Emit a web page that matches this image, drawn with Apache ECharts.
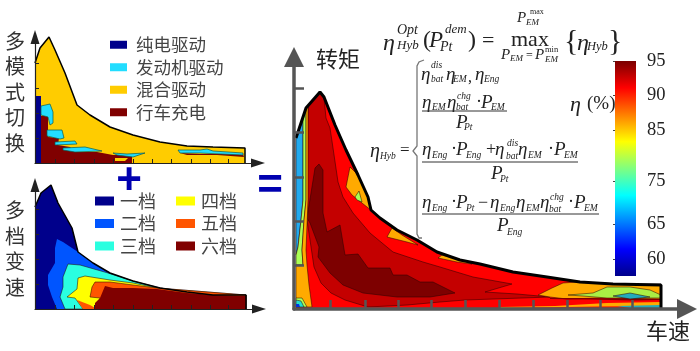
<!DOCTYPE html>
<html lang="zh">
<head>
<meta charset="UTF-8">
<title>混合动力效率</title>
<script src="https://cdn.jsdelivr.net/npm/echarts@6/dist/echarts.min.js"></script>
<style>
    html, body { margin: 0; padding: 0; background: #fff; }
    #main { width: 700px; height: 351px; }
</style>
</head>
<body>
<div id="main"></div>
<script>
    // 多模式切换 (speed, torque)
    const modeSpeedTicks = [20, 39, 59, 78, 98, 117, 136, 156, 175, 193];
    const modeTorqueTicks = [25, 50, 75, 100];
    const modeEnvelope = [[0,100],[5,115],[14,126],[20,113],[30,90],[42,58],[55,48],[75,36],[98,28],[125,21],[152,17],[178,16],[210,15],[210,0]];
    const modeEv = [[0,0],[6,0],[6,67],[0,67]];
    const modeChargeMain = [[6,47],[13,47],[13,26],[24,25],[23,18],[35,16],[40,11],[62,11],[78,8],[97,8],[97,0],[6,0]];
    const modeChargeHigh = [[145,10],[165,9],[208,9],[209,6],[182,8],[152,8]];
    const modeEngineA = [[6,57],[15,59],[18,51],[18,40],[15,38],[13,46],[6,48]];
    const modeEngineB = [[12,33],[27,33],[29,25],[25,24],[12,27]];
    const modeEngineC = [[20,21],[40,22],[42,19],[20,18]];
    const modeEngineD = [[28,15],[50,16],[67,12],[40,11],[28,13]];
    const modeEngineE = [[78,10],[92,9],[110,10],[98,6],[82,8]];
    const modeEngineF = [[143,13],[165,13],[172,14],[178,12],[208,10],[208,8],[165,10],[145,10]];
    const modeHybridIsland = [[80,5],[93,5],[90,2],[80,2]];

    // 多档变速
    const gearEnvelope = [[0,102],[6,116],[16,124],[23,106],[37,81],[43,57],[58,46],[75,36],[98,28],[125,21],[152,17],[178,14],[211,14],[211,0]];
    const gear2 = [[22,70],[28,67],[43,57],[58,46],[75,36],[98,28],[125,21],[152,17],[178,14],[211,14],[211,0],[22,0],[17,12],[13,24],[13,34],[20,46],[20,61]];
    const gear3 = [[33,45],[45,44],[73,36],[98,28],[125,21],[152,17],[178,14],[211,14],[211,0],[30,0],[25,12],[28,22],[28,32]];
    const gear4 = [[43,31],[50,33],[75,29],[98,26],[122,21],[211,14],[211,0],[48,0],[40,11],[32,12],[42,20]];
    const gear5 = [[57,22],[60,27],[75,27],[98,24],[122,21],[211,14],[211,0],[65,0],[65,11],[55,12]];
    const gear5Low = [[42,9],[55,4],[62,0],[48,0]];
    const gear6 = [[65,11],[70,23],[78,21],[98,21],[122,20],[152,16],[178,14],[211,13],[211,0],[60,0],[60,6]];

    // 效率 map
    const effSpeedTicks = [36, 71, 104, 137, 171, 205, 239, 273, 306, 338];
    const effTorqueTicks = [44, 88, 132, 177, 221];
    const effEnvelope = [[2,171],[12,201],[26,217],[30,212],[41,184],[52,159],[64,134],[74,112],[77,99],[86,91],[103,79],[123,69],[143,57],[166,49],[186,45],[219,37],[253,32],[286,27],[319,25],[367,24],[367,0]];
    const eff92 = [[14,203],[26,216],[30,211],[32,191],[36,181],[39,161],[44,127],[49,112],[59,96],[76,76],[99,57],[129,47],[146,42],[179,32],[218,25],[191,17],[223,15],[256,12],[171,9],[146,7],[113,4],[74,2],[51,9],[37,16],[27,26],[20,42],[16,69],[13,89]];
    const eff95 = [[13,91],[21,141],[25,145],[29,139],[29,96],[33,77],[46,84],[51,54],[64,55],[74,41],[96,41],[99,34],[113,34],[126,27],[139,27],[161,16],[136,12],[103,12],[69,16],[49,24],[36,36],[24,52],[25,62],[16,86]];
    const eff85Peak = [[52,122],[56,142],[64,134],[74,112],[77,99],[73,102],[58,114]];
    const eff80Peak = [[61,112],[65,118],[68,107],[63,109]];
    const eff85Mid = [[98,81],[93,72],[113,67],[124,64],[108,74]];
    const eff85Next = [[148,54],[144,51],[163,47],[178,45],[168,49]];
    const eff85End = [[244,14],[258,21],[269,26],[283,27],[326,25],[367,25],[367,10],[306,11],[273,10],[256,12]];
    const eff80End = [[274,14],[299,16],[313,22],[336,22],[356,19],[367,14],[367,11],[339,11],[313,11],[289,13]];
    const eff70End = [[319,13],[336,16],[356,12],[336,10]];
    const eff85Low = [[206,2],[261,3],[313,6],[367,7],[367,3],[306,2.5],[206,1]];
    const eff95Low = [[256,11],[296,11],[339,10],[367,10],[367,9],[339,8.5],[296,9.5],[256,10]];
    const eff70Low = [[323,3],[367,4],[367,1],[336,1]];
    const eff72Left = [[2,171],[9,189],[9,109],[7,89],[4,62],[2,54]];
    const eff80Left = [[9,189],[12,201],[12,109],[10,89],[8,59],[9,44],[2,44],[2,54],[4,62],[7,89],[9,109]];
    const eff85Left = [[12,201],[14,204],[14,109],[13,84],[12,59],[13,44],[15,24],[18,2],[2,2],[2,44],[9,44],[8,59],[10,89],[12,109]];
    const eff80Corner = [[2,11],[8,11],[13,2],[2,2]];
    const eff70Corner = [[2,9],[7,8],[10,2],[2,2]];
    const eff60Corner = [[2,5],[5,5],[6,2],[2,2]];

    // 色标
    const colorbarRows = [57,58.5,60,61,62,64,65,67,69,71,73,75,77,78,80,82,83,85,86,88,89,90,91,92,94,95];
    const colorbarLabels = [60, 65, 75, 85, 90, 95];

    const modeNames = ['纯电驱动', '发动机驱动', '混合驱动', '行车充电'];
    const gearLeft = ['一档', '二档', '三档'];
    const gearRight = ['四档', '五档', '六档'];

    const BLUE = '#00008b', CYAN = '#22ddff', AMBER = '#ffcc00', MAROON = '#800000';
    const contourLine = 'rgba(40,0,0,0.75)';

    function region(name, pts, color, idx, stroke) {
        return {
            type: 'custom',
            name: name,
            xAxisIndex: idx,
            yAxisIndex: idx,
            data: pts,
            encode: { x: 0, y: 1 },
            itemStyle: { color: color },
            silent: true,
            renderItem: function (params, api) {
                if (params.dataIndex !== 0) return null;
                return {
                    type: 'polygon',
                    shape: { points: pts.map(function (p) { return api.coord(p); }) },
                    style: { fill: color, stroke: stroke || null, lineWidth: stroke ? 0.7 : 0 }
                };
            }
        };
    }

    function outline(pts, idx, width) {
        return {
            type: 'line',
            xAxisIndex: idx,
            yAxisIndex: idx,
            data: pts,
            showSymbol: false,
            silent: true,
            clip: false,
            z: 4,
            lineStyle: { color: '#000', width: width }
        };
    }

    const mDark = '#0d5a4a';
    const series = [
        region('混合驱动', modeEnvelope.concat([[0,0]]), AMBER, 0),
        region('纯电驱动', modeEv, BLUE, 0),
        region('行车充电', modeChargeMain, MAROON, 0),
        region('行车充电', modeChargeHigh, MAROON, 0),
        region('发动机驱动', modeEngineA, CYAN, 0, mDark),
        region('发动机驱动', modeEngineB, CYAN, 0, mDark),
        region('发动机驱动', modeEngineC, CYAN, 0, mDark),
        region('发动机驱动', modeEngineD, CYAN, 0, mDark),
        region('发动机驱动', modeEngineE, CYAN, 0, mDark),
        region('发动机驱动', modeEngineF, CYAN, 0, mDark),
        region('混合驱动', modeHybridIsland, AMBER, 0),
        outline(modeEnvelope, 0, 1.5),

        region('一档', gearEnvelope.concat([[0,0]]), '#00008b', 1),
        region('二档', gear2, '#0055ff', 1),
        region('三档', gear3, '#2affe0', 1, contourLine),
        region('四档', gear4, '#ffff00', 1, contourLine),
        region('五档', gear5, '#ff5500', 1, contourLine),
        region('五档', gear5Low, '#ff5500', 1),
        region('六档', gear6, '#800000', 1),
        outline(gearEnvelope, 1, 1.5),

        region('90', effEnvelope.concat([[2,0]]), '#ff0000', 2),
        region('92', eff92, '#c40000', 2, contourLine),
        region('95', eff95, '#7d0000', 2, contourLine),
        region('85', eff85Peak, '#ffaa00', 2, contourLine),
        region('80', eff80Peak, '#aaff55', 2, contourLine),
        region('85', eff85Mid, '#ffaa00', 2, contourLine),
        region('85', eff85Next, '#ffaa00', 2, contourLine),
        region('85', eff85End, '#ffaa00', 2, contourLine),
        region('80', eff80End, '#aaee44', 2, contourLine),
        region('70', eff70End, '#22aabb', 2, contourLine),
        region('85', eff85Low, '#ffaa00', 2),
        region('95', eff95Low, '#7d0000', 2),
        region('70', eff70Low, '#22aabb', 2),
        region('72', eff72Left, '#22aaee', 2, contourLine),
        region('80', eff80Left, '#aaff55', 2, contourLine),
        region('85', eff85Left, '#ffaa00', 2, contourLine),
        region('80', eff80Corner, '#aaff55', 2, contourLine),
        region('70', eff70Corner, '#22ddcc', 2, contourLine),
        region('60', eff60Corner, '#0033dd', 2),
        outline(effEnvelope, 2, 3),

        {
            type: 'custom',
            xAxisIndex: 3,
            yAxisIndex: 3,
            data: [[0, 0, colorbarRows.length - 1]],
            encode: { x: 0, y: [1, 2] },
            silent: true,
            renderItem: function (params, api) {
                const a = api.coord([0, api.value(2)]);
                const b = api.coord([1, api.value(1)]);
                return {
                    type: 'rect',
                    shape: { x: a[0], y: a[1], width: b[0] - a[0], height: b[1] - a[1] },
                    style: {
                        fill: new echarts.graphic.LinearGradient(0, 0, 0, 1, [
                            { offset: 0, color: '#7a0000' },
                            { offset: 0.125, color: '#ff0000' },
                            { offset: 0.375, color: '#ffff00' },
                            { offset: 0.625, color: '#00ffff' },
                            { offset: 0.875, color: '#0000ff' },
                            { offset: 1, color: '#00008b' }
                        ])
                    }
                };
            }
        }
    ];

    function plotAxis(max, ticks, color, width, tickLen, arrow) {
        return {
            type: 'value',
            min: 0,
            max: max,
            z: 5,
            splitLine: { show: false },
            axisLabel: { show: false },
            axisLine: {
                show: true,
                onZero: false,
                symbol: ['none', 'triangle'],
                symbolSize: arrow,
                lineStyle: { color: color, width: width }
            },
            axisTick: {
                show: true,
                inside: true,
                length: tickLen,
                customValues: ticks,
                lineStyle: { color: color, width: width > 2 ? 2.5 : 1 }
            }
        };
    }

    function label(text, x, y, size, color) {
        return {
            type: 'text', x: x, y: y, silent: true,
            style: {
                text: text, fill: color || '#333',
                font: size + 'px "Noto Sans CJK SC"',
                align: 'center', verticalAlign: 'middle', lineHeight: 25.5
            }
        };
    }

    function symbolMark(text, x, y) {
        return {
            type: 'text', x: x, y: y, silent: true,
            style: { text: text, fill: '#0000b0', font: 'bold 44px "Liberation Sans"', align: 'center', verticalAlign: 'middle' }
        };
    }

    // text, x, y (middle), size, italic
    const mathPieces = [
        ['η',383,44,24,1],['Opt',397,30,14,1],['Hyb',397,46,13,1],['(',423,41,24,0],['P',429,41,23,1],['dem',445,30,13,1],['Pt',440,47,14,1],[')',468,41,24,0],['=',482,41,22,0],
        ['max',511,40,22,0],['P',517,18,15,1],['max',530,12,8,0],['EM',526,23,9,1],
        ['P',501,55,15,1],['EM',510,59,9,1],['=',526,56,12,0],['P',535,55,15,1],['min',545,50,8.5,0],['EM',545,60,9,1],
        ['{',564,42,30,0],['η',577,44,24,1],['Hyb',587,47,12.5,1],['}',608,42,30,0],
        ['η',570,105,22,1],['(%)',587,104,19,0],

        ['η',370,152,20,1],['Hyb',380,156,9.5,1],['=',400,151,17,0],

        ['η',421,75,19,1],['dis',431,65,9.5,1],['bat',431,79,9.5,1],['η',446,75,19,1],['EM',453,79,9.5,1],[',',468,78,16,0],['η',475,75,19,1],['Eng',484,79,9.5,1],

        ['η',422,103,19,1],['EM',432,107,9.5,1],['η',447,103,19,1],['chg',457,96,9.5,1],['bat',456,107,9.5,1],['·',476,102,18,0],['P',481,103,19,1],['EM',491,107,9.5,1],
        ['P',456,123,19,1],['Pt',464,127,9.5,1],

        ['η',422,150,19,1],['Eng',432,155,9.5,1],['·',451,149,18,0],['P',456,150,19,1],['Eng',466,155,9.5,1],['+',486,150,18,0],['η',495,150,19,1],['dis',507,143,9.5,1],['bat',506,156,9.5,1],['η',518,150,19,1],['EM',528,155,9.5,1],['·',548,149,18,0],['P',554,150,19,1],['EM',564,155,9.5,1],
        ['P',491,174,19,1],['Pt',500,179,9.5,1],

        ['η',422,203,19,1],['Eng',432,208,9.5,1],['·',451,202,18,0],['P',456,203,19,1],['Pt',466,208,9.5,1],['−',478,203,18,0],['η',490,203,19,1],['Eng',500,208,9.5,1],['η',516,203,19,1],['EM',526,208,9.5,1],['η',540,203,19,1],['chg',550,197,9.5,1],['bat',549,209,9.5,1],['·',568,202,18,0],['P',574,203,19,1],['EM',584,208,9.5,1],
        ['P',497,226,19,1],['Eng',507,232,9.5,1]
    ];

    const fractionBars = [[422,507,111],[422,578,162],[422,599,214]];

    const graphicEls = [
        label('多\n模\n式\n切\n换', 15, 92, 20),
        label('多\n档\n变\n速', 15, 249, 20),
        label('转矩', 338, 59, 22, '#222'),
        label('车速', 668, 331, 22, '#222'),
        symbolMark('+', 129, 182),
        symbolMark('=', 270, 187),
        {
            type: 'polyline', silent: true,
            shape: { points: [[424,60],[419,62],[417,66],[417,146],[413,151],[417,156],[417,234],[419,238],[422,238]] },
            style: { stroke: '#777', lineWidth: 1.3, fill: null }
        }
    ];
    mathPieces.forEach(function (m) {
        graphicEls.push({
            type: 'text', x: m[1], y: m[2], silent: true,
            style: {
                text: m[0], fill: '#222',
                font: (m[4] ? 'italic ' : '') + m[3] + 'px "Liberation Serif"',
                align: 'left', verticalAlign: 'middle'
            }
        });
    });
    fractionBars.forEach(function (b) {
        graphicEls.push({
            type: 'line', silent: true,
            shape: { x1: b[0], y1: b[2], x2: b[1], y2: b[2] },
            style: { stroke: '#333', lineWidth: 1 }
        });
    });

    const legendBase = {
        orient: 'vertical',
        selectedMode: false,
        icon: 'rect',
        padding: 0,
        itemStyle: { borderWidth: 0 }
    };

    const option = {
        animation: false,
        backgroundColor: '#fff',
        grid: [
            { left: 35, top: 37, width: 223, height: 126 },
            { left: 35, top: 185, width: 224, height: 124 },
            { left: 294, top: 57, width: 393, height: 252 },
            { left: 615, top: 61, width: 21, height: 215 }
        ],
        xAxis: [
            Object.assign(plotAxis(223, modeSpeedTicks, '#222', 1.2, 4, [9, 14]), { gridIndex: 0 }),
            Object.assign(plotAxis(224, modeSpeedTicks, '#222', 1.2, 4, [9, 14]), { gridIndex: 1 }),
            Object.assign(plotAxis(393, effSpeedTicks, '#555', 3.5, 9, [20, 20]), { gridIndex: 2 }),
            { type: 'value', gridIndex: 3, min: 0, max: 1, show: false }
        ],
        yAxis: [
            Object.assign(plotAxis(126, modeTorqueTicks, '#222', 1.2, 4, [9, 14]), { gridIndex: 0 }),
            Object.assign(plotAxis(124, modeTorqueTicks, '#222', 1.2, 4, [9, 14]), { gridIndex: 1 }),
            Object.assign(plotAxis(252, effTorqueTicks, '#555', 3.5, 10, [20, 20]), { gridIndex: 2 }),
            {
                type: 'category',
                gridIndex: 3,
                position: 'right',
                boundaryGap: false,
                data: colorbarRows,
                axisLine: { show: false },
                axisTick: {
                    inside: true, length: 2,
                    interval: function (i, v) { return colorbarLabels.indexOf(Number(v)) >= 0; },
                    lineStyle: { color: '#444' }
                },
                axisLabel: {
                    margin: 11,
                    interval: function (i, v) { return colorbarLabels.indexOf(Number(v)) >= 0; },
                    color: '#222',
                    fontSize: 18.5,
                    fontFamily: 'Liberation Serif'
                }
            }
        ],
        legend: [
            Object.assign({}, legendBase, {
                left: 110, top: 36, itemWidth: 17, itemHeight: 8, itemGap: 5, data: modeNames,
                textStyle: { fontFamily: 'Noto Sans CJK SC', fontSize: 17.5, color: '#444', padding: [0, 0, 0, 4] }
            }),
            Object.assign({}, legendBase, {
                left: 95, top: 192, itemWidth: 19, itemHeight: 9, itemGap: 4.5, data: gearLeft,
                textStyle: { fontFamily: 'Noto Sans CJK SC', fontSize: 18, color: '#444', padding: [0, 0, 0, 1] }
            }),
            Object.assign({}, legendBase, {
                left: 176, top: 192, itemWidth: 19, itemHeight: 9, itemGap: 4.5, data: gearRight,
                textStyle: { fontFamily: 'Noto Sans CJK SC', fontSize: 18, color: '#444', padding: [0, 0, 0, 1] }
            })
        ],
        graphic: { elements: graphicEls },
        series: series
    };

    const myChart = echarts.init(document.getElementById('main'), null, { renderer: 'canvas' });
    myChart.setOption(option);
</script>
</body>
</html>
